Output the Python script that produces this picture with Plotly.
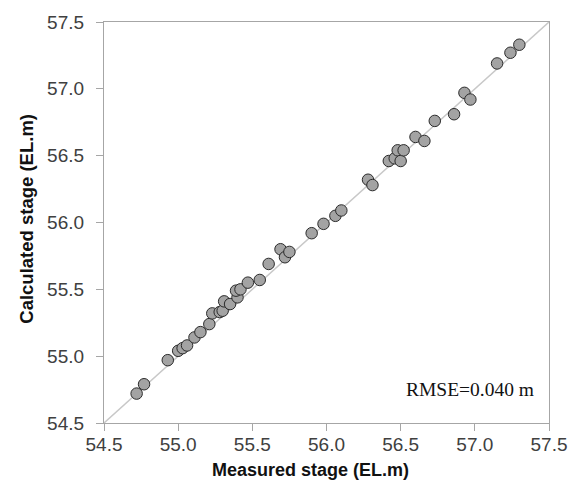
import plotly.graph_objects as go

# Measured vs. calculated water stage (EL.m)
measured = [54.72, 54.77, 54.93, 55.00, 55.03, 55.06, 55.11, 55.15, 55.21, 55.23,
            55.28, 55.30, 55.31, 55.35, 55.40, 55.39, 55.42, 55.47, 55.55, 55.61,
            55.69, 55.72, 55.75, 55.90, 55.98, 56.06, 56.10, 56.28, 56.31, 56.42,
            56.46, 56.48, 56.50, 56.52, 56.60, 56.66, 56.73, 56.86, 56.93, 56.97,
            57.15, 57.24, 57.30]
calculated = [54.72, 54.79, 54.97, 55.04, 55.06, 55.08, 55.14, 55.18, 55.24, 55.32,
              55.33, 55.34, 55.41, 55.39, 55.44, 55.49, 55.50, 55.55, 55.57, 55.69,
              55.80, 55.74, 55.78, 55.92, 55.99, 56.05, 56.09, 56.32, 56.28, 56.46,
              56.48, 56.54, 56.46, 56.54, 56.64, 56.61, 56.76, 56.81, 56.97, 56.92,
              57.19, 57.27, 57.33]

axis_range = [54.5, 57.5]
tick_vals = [54.5, 55.0, 55.5, 56.0, 56.5, 57.0, 57.5]
rmse_label = "RMSE=0.040 m"

fig = go.Figure()

# 1:1 reference line
fig.add_trace(go.Scatter(
    x=axis_range, y=axis_range, mode="lines",
    line=dict(color="#c8c8c8", width=1.5),
    hoverinfo="skip", showlegend=False,
))

fig.add_trace(go.Scatter(
    x=measured, y=calculated, mode="markers",
    marker=dict(size=11.5, color="#a3a3a3", line=dict(color="#2b2b2b", width=1)),
    showlegend=False,
))

axis_common = dict(
    range=axis_range, tickvals=tick_vals, tickformat=".1f",
    showgrid=False, zeroline=False,
    showline=True, linecolor="#a6a6a6", linewidth=1.2, mirror=True,
    ticks="outside", ticklen=7, tickcolor="#a6a6a6", tickwidth=1,
    tickfont=dict(family="Liberation Sans, Arial, sans-serif", size=19, color="#404040"),
)

fig.update_xaxes(**axis_common, ticklabelstandoff=-3)
fig.update_yaxes(**axis_common, ticklabelstandoff=8)

fig.update_layout(
    width=579, height=484,
    margin=dict(l=104, r=26, t=20, b=61),
    plot_bgcolor="white", paper_bgcolor="white",
    annotations=[
        dict(text="<b>Measured stage (EL.m)</b>", xref="paper", yref="paper",
             x=(312 - 104) / 449, y=-(470.5 - 423) / 403, xanchor="center", yanchor="middle",
             showarrow=False,
             font=dict(family="Liberation Sans, Arial, sans-serif", size=18, color="#111111")),
        dict(text="<b>Calculated stage (EL.m)</b>", xref="paper", yref="paper",
             x=-(104 - 25) / 449, y=(423 - 218) / 403, xanchor="center", yanchor="middle",
             textangle=-90, showarrow=False,
             font=dict(family="Liberation Sans, Arial, sans-serif", size=18.5, color="#111111")),
        dict(text=rmse_label, xref="paper", yref="paper",
             x=(473 - 104) / 449, y=(423 - 389) / 403, xanchor="center", yanchor="middle",
             showarrow=False,
             font=dict(family="Liberation Serif, Times New Roman, serif", size=19.5, color="#111111")),
    ],
)

fig.write_html("out.html")
